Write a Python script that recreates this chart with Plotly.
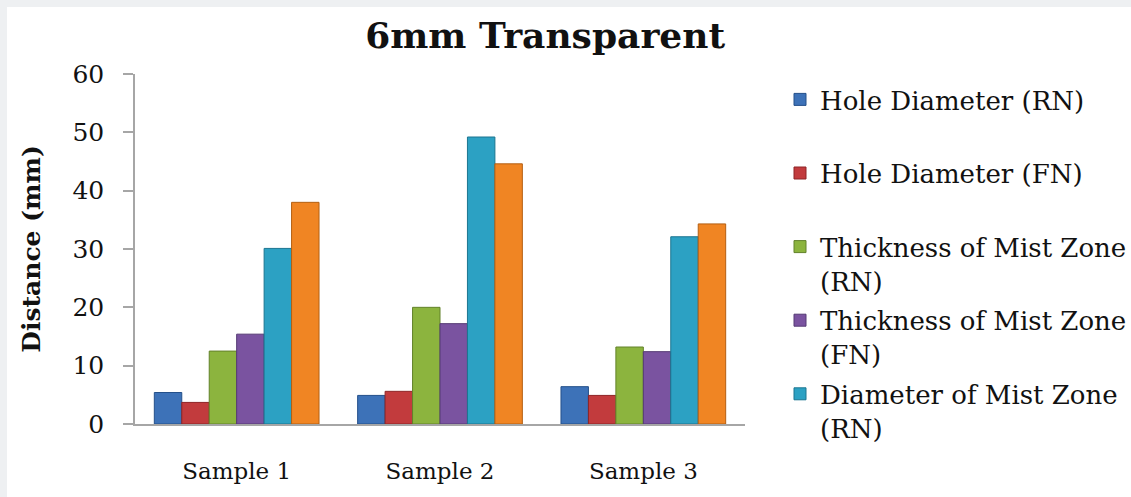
import plotly.graph_objects as go

categories = ["Sample 1", "Sample 2", "Sample 3"]
series_names = [
    "Hole Diameter (RN)",
    "Hole Diameter (FN)",
    "Thickness of Mist Zone<br>(RN)",
    "Thickness of Mist Zone<br>(FN)",
    "Diameter of Mist Zone<br>(RN)",
    "Diameter of Mist Zone (FN)",
]
hole_rn = [5.4, 4.9, 6.4]
hole_fn = [3.7, 5.6, 4.9]
thick_rn = [12.5, 20.0, 13.2]
thick_fn = [15.4, 17.2, 12.4]
diam_rn = [30.1, 49.2, 32.1]
diam_fn = [38.0, 44.6, 34.3]
values = [hole_rn, hole_fn, thick_rn, thick_fn, diam_rn, diam_fn]

fills = ["#3d72b8", "#c23b3d", "#8cb43e", "#7a53a0", "#2ca1c3", "#f08523"]
edges = ["#24508a", "#8e2426", "#62822a", "#553a74", "#1b7590", "#b45f12"]
show_leg = [True, True, True, True, True, False]

FONT = "DejaVu Serif"

fig = go.Figure()
for i, (name, vals, fc, ec, sl) in enumerate(zip(series_names, values, fills, edges, show_leg)):
    label = name if "<br>" in name else name + "<br> "
    fig.add_trace(go.Bar(
        x=categories, y=vals, name=label,
        marker=dict(color=fc, line=dict(color=ec, width=1)),
        showlegend=sl, legendgroup=f"g{i}",
    ))

fig.update_layout(
    width=1131, height=497,
    margin=dict(l=135, r=386, t=74, b=73, autoexpand=False),
    paper_bgcolor="#eef0f2",
    plot_bgcolor="white",
    barmode="group",
    bargap=0.19,
    bargroupgap=0,
    font=dict(family=FONT, color="#111111"),
    title=dict(
        text="<b>6mm Transparent</b>",
        font=dict(family=FONT, size=36, color="#111111"),
        x=0.482, xref="container", xanchor="center",
        y=1 - 35 / 497, yref="container", yanchor="middle",
    ),
    legend=dict(
        x=1.0574, xanchor="left",
        y=(424 - 76) / 350, yanchor="top",
        font=dict(family=FONT, size=26, color="#111111"),
        valign="top",
        bgcolor="rgba(0,0,0,0)",
        traceorder="grouped",
        tracegroupgap=3,
    ),
    shapes=[dict(
        type="rect", xref="paper", yref="paper",
        x0=(7 - 135) / 610, x1=1.8, y0=-0.4, y1=(424 - 7) / 350,
        fillcolor="white", line=dict(width=0), layer="below",
    )],
)
try:
    fig.update_layout(legend_maxheight=440)
except Exception:
    pass

fig.update_xaxes(
    showline=True, linecolor="#a6a6a6", linewidth=1.5,
    showgrid=False, ticks="",
    tickfont=dict(family=FONT, size=23, color="#111111"),
    ticklabelstandoff=26,
)
fig.update_yaxes(
    range=[0, 60], dtick=10,
    showline=True, linecolor="#a6a6a6", linewidth=1.5,
    showgrid=False, zeroline=False,
    ticks="outside", ticklen=10, tickcolor="#a6a6a6", tickwidth=1.5,
    tickfont=dict(family=FONT, size=25, color="#111111"),
    ticklabelstandoff=14,
    title=dict(text="<b>Distance (mm)</b>", font=dict(family=FONT, size=25, color="#111111"), standoff=25),
)

fig.write_html(
    "out.html",
    config={"displayModeBar": False},
    post_script="document.body.style.margin='0';document.body.style.overflow='hidden';",
)
